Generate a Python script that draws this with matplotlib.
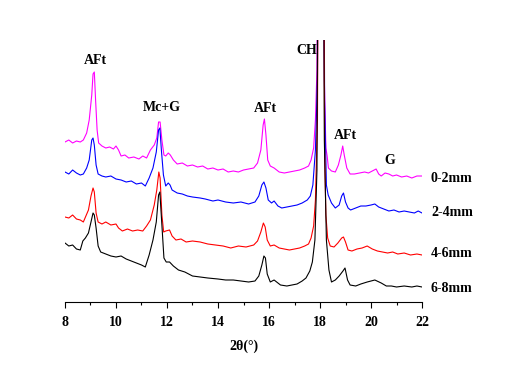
import matplotlib
matplotlib.use("Agg")
import matplotlib.pyplot as plt
from matplotlib.ticker import MultipleLocator

# XRD patterns (stacked), 2theta in degrees, intensity in arbitrary units (offsets included)
tt_02 = [8.0, 8.15, 8.3, 8.45, 8.6, 8.72, 8.85, 8.95, 9.05, 9.1, 9.15, 9.2, 9.26, 9.32, 9.45, 9.6,
         9.75, 9.9, 10.0, 10.1, 10.2, 10.35, 10.5, 10.7, 10.9, 11.05, 11.2, 11.35, 11.5, 11.6,
         11.67, 11.73, 11.8, 11.88, 11.95, 12.05, 12.13, 12.25, 12.4, 12.6, 12.8, 13.0, 13.2,
         13.4, 13.6, 13.8, 14.0, 14.2, 14.4, 14.6, 14.8, 15.0, 15.2, 15.4, 15.55, 15.68, 15.77,
         15.82, 15.88, 15.95, 16.05, 16.2, 16.4, 16.6, 16.8, 17.0, 17.2, 17.4, 17.55, 17.65,
         17.75, 17.82, 17.88, 17.95, 18.1, 18.17, 18.23, 18.28, 18.33, 18.45, 18.6, 18.72, 18.82,
         18.89, 18.95, 19.05, 19.18, 19.35, 19.55, 19.75, 19.9, 20.05, 20.2, 20.3, 20.4, 20.55,
         20.7, 20.85, 21.0, 21.2, 21.4, 21.6, 21.8, 22.0]
int_02 = [160, 162, 159, 161, 160, 162, 169, 182, 207, 228, 230, 202, 172, 159, 156, 154,
          155, 153, 156, 152, 146, 147, 144, 145, 143, 146, 144, 152, 157, 164,
          180, 180, 162, 147, 146, 149, 147, 142, 138, 139, 136, 137, 135,
          136, 133, 134, 132, 133, 130, 131, 130, 132, 133, 134, 139, 152, 177,
          183, 167, 142, 136, 134, 130, 129, 130, 131, 132, 134, 136, 142,
          154, 182, 232, 600, 600, 222, 154, 146, 134, 131, 130, 137, 147,
          156, 147, 134, 128, 128, 129, 130, 129, 131, 133, 128, 126, 129,
          128, 126, 127, 125, 126, 124, 126, 126]

tt_24 = [8.0, 8.15, 8.3, 8.45, 8.6, 8.72, 8.85, 8.95, 9.05, 9.1, 9.15, 9.22, 9.3, 9.45, 9.6, 9.8,
         10.0, 10.2, 10.4, 10.6, 10.8, 11.0, 11.15, 11.3, 11.45, 11.58, 11.67, 11.72, 11.78,
         11.86, 11.95, 12.05, 12.12, 12.2, 12.4, 12.6, 12.8, 13.0, 13.3, 13.5, 13.8, 14.0, 14.3,
         14.6, 14.9, 15.2, 15.45, 15.6, 15.72, 15.8, 15.88, 15.97, 16.1, 16.2, 16.35, 16.5, 16.7,
         16.9, 17.1, 17.3, 17.5, 17.62, 17.72, 17.82, 17.9, 17.97, 18.12, 18.18, 18.25, 18.32,
         18.45, 18.6, 18.75, 18.85, 18.92, 19.0, 19.1, 19.2, 19.4, 19.6, 19.8, 20.0, 20.15, 20.3,
         20.5, 20.7, 20.9, 21.1, 21.3, 21.5, 21.7, 21.85, 22.0]
int_24 = [130, 128, 132, 129, 127, 128, 134, 142, 162, 164, 157, 137, 128, 126, 125, 126,
          123, 122, 120, 121, 118, 119, 116, 124, 134, 150, 172, 174, 152,
          127, 116, 119, 117, 112, 109, 108, 106, 105, 104, 103, 101, 102, 100,
          99, 100, 98, 100, 106, 117, 120, 114, 102, 99, 101, 96, 94, 95,
          96, 97, 99, 102, 106, 117, 152, 222, 600, 600, 202, 117, 107,
          99, 94, 97, 106, 109, 100, 94, 92, 94, 96, 96, 97, 98, 95,
          93, 91, 92, 90, 91, 90, 89, 91, 89]

tt_46 = [8.0, 8.15, 8.3, 8.45, 8.6, 8.72, 8.82, 8.92, 9.02, 9.1, 9.15, 9.22, 9.3, 9.45, 9.6, 9.8,
         10.0, 10.1, 10.25, 10.45, 10.65, 10.85, 11.05, 11.2, 11.35, 11.5, 11.6, 11.68, 11.73,
         11.8, 11.87, 11.95, 12.1, 12.2, 12.35, 12.55, 12.75, 13.0, 13.3, 13.6, 13.9, 14.2, 14.5,
         14.8, 15.1, 15.4, 15.55, 15.68, 15.78, 15.85, 15.93, 16.05, 16.2, 16.4, 16.6, 16.8, 17.0,
         17.2, 17.4, 17.55, 17.65, 17.75, 17.82, 17.9, 17.97, 18.12, 18.18, 18.23, 18.3, 18.4,
         18.55, 18.7, 18.85, 18.92, 19.0, 19.1, 19.25, 19.45, 19.65, 19.85, 20.05, 20.25, 20.45,
         20.65, 20.85, 21.05, 21.3, 21.55, 21.8, 22.0]
int_46 = [85, 84, 87, 83, 82, 80, 86, 92, 106, 114, 110, 89, 80, 78, 80, 77,
          78, 74, 71, 73, 71, 72, 71, 76, 82, 97, 112, 130, 124,
          87, 70, 71, 72, 66, 62, 63, 60, 61, 60, 58, 57, 56, 54,
          56, 55, 57, 61, 70, 79, 75, 62, 56, 57, 54, 53, 52, 53,
          54, 56, 58, 64, 76, 102, 182, 600, 600, 152, 87, 64, 56,
          55, 59, 64, 65, 60, 52, 51, 53, 54, 56, 53, 51, 50,
          49, 50, 48, 49, 47, 48, 47]

tt_68 = [8.0, 8.15, 8.3, 8.45, 8.6, 8.7, 8.8, 8.92, 9.02, 9.1, 9.15, 9.22, 9.3, 9.4, 9.6, 9.8,
         10.0, 10.2, 10.4, 10.6, 10.8, 11.0, 11.15, 11.3, 11.45, 11.58, 11.67, 11.72, 11.8,
         11.88, 11.97, 12.1, 12.25, 12.45, 12.7, 13.0, 13.3, 13.6, 14.0, 14.3, 14.6, 14.9, 15.2,
         15.45, 15.6, 15.72, 15.8, 15.86, 15.93, 16.05, 16.2, 16.45, 16.7, 16.9, 17.1, 17.3,
         17.45, 17.6, 17.7, 17.8, 17.88, 17.95, 18.1, 18.17, 18.25, 18.35, 18.45, 18.6, 18.75,
         18.9, 18.98, 19.08, 19.18, 19.4, 19.6, 19.85, 20.15, 20.4, 20.6, 20.8, 21.0, 21.3,
         21.6, 21.8, 22.0]
int_68 = [59, 56, 57, 53, 52, 61, 64, 69, 80, 89, 87, 74, 56, 50, 48, 46,
          45, 46, 43, 41, 39, 37, 35, 47, 62, 80, 107, 110, 77,
          44, 40, 40, 36, 32, 30, 26, 25, 24, 23, 22, 22, 21, 20,
          21, 26, 37, 46, 44, 28, 20, 22, 17, 16, 17, 18, 21,
          24, 31, 40, 62, 132, 600, 600, 162, 62, 32, 20, 22, 26,
          31, 34, 22, 17, 16, 18, 20, 22, 19, 16, 16, 15, 16,
          15, 16, 15]

series = [(tt_02, int_02, "#FF00FF", "0-2mm"),
          (tt_24, int_24, "#0000FF", "2-4mm"),
          (tt_46, int_46, "#FF0000", "4-6mm"),
          (tt_68, int_68, "#000000", "6-8mm")]

# peak annotations (2theta, height)
peak_labels = ["AFt", "Mc+G", "AFt", "CH", "AFt", "G"]
peak_x = [9.18, 11.8, 15.84, 17.49, 18.98, 20.75]
peak_y = [242, 195, 194, 252, 167, 142]

# series label heights
label_y = [124, 90, 49, 14]

font = {"family": "Liberation Serif", "weight": "bold"}

fig = plt.figure(figsize=(5.27, 3.65), dpi=100)
ax = fig.add_axes([0.1233, 0.1726, 0.6775, 0.7178])

for (tt, inten, col, name), ly in zip(series, label_y):
    ax.plot(tt, inten, color=col, lw=0.8)
    ax.text(22.35, ly, name, ha="left", va="center", fontsize=10, clip_on=False, **font)

for lab, px, py in zip(peak_labels, peak_x, peak_y):
    ax.text(px, py, lab, ha="center", va="center", fontsize=10, **font)

ax.set_xlim(8, 22)
ax.set_ylim(0, 262)
ax.xaxis.set_major_locator(MultipleLocator(2))
ax.xaxis.set_minor_locator(MultipleLocator(1))
ax.tick_params(axis="x", which="major", length=4, width=0.8, direction="out", pad=6)
ax.tick_params(axis="x", which="minor", length=2, width=0.8, direction="out")
ax.set_yticks([])
for s in ["top", "left", "right"]:
    ax.spines[s].set_visible(False)
ax.spines["bottom"].set_linewidth(0.8)
for t in ax.get_xticklabels():
    t.set_fontfamily("Liberation Serif")
    t.set_fontweight("bold")
    t.set_fontsize(10)
ax.set_xlabel("2θ(°)", fontsize=10, labelpad=8, **font)

fig.savefig("out.png", dpi=100)
